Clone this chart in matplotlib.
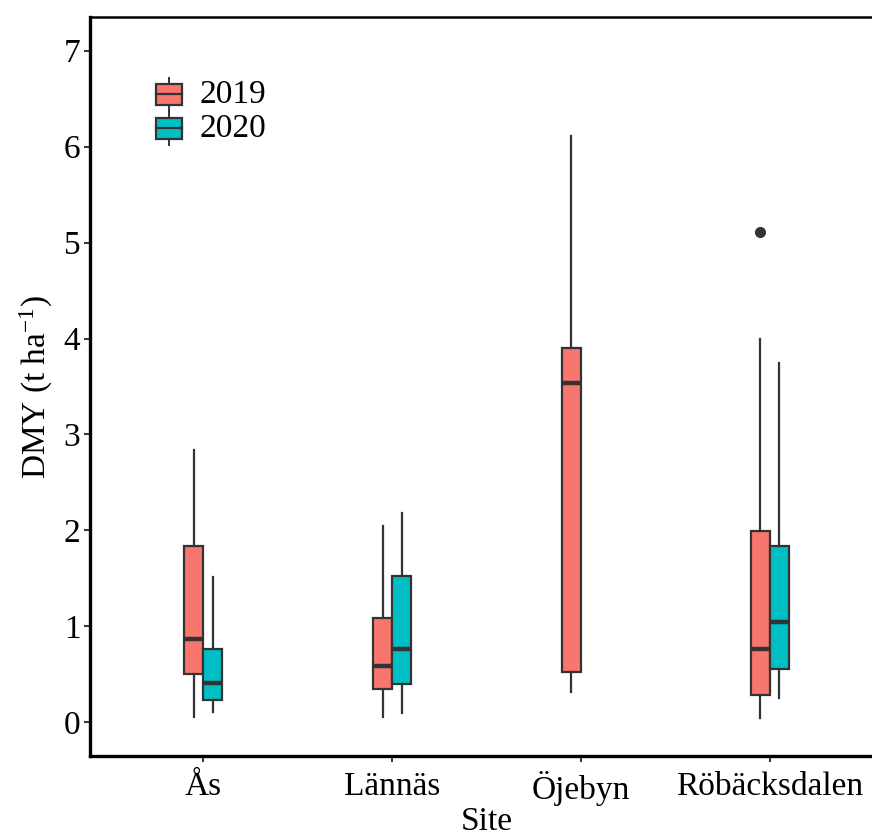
import matplotlib
matplotlib.use('Agg')
import matplotlib.pyplot as plt
from matplotlib.legend_handler import HandlerBase
from matplotlib.patches import Rectangle
from matplotlib.lines import Line2D

plt.rcParams['font.family'] = ['Liberation Serif', 'DejaVu Serif']
plt.rcParams['mathtext.fontset'] = 'custom'
plt.rcParams['mathtext.rm'] = 'Liberation Serif'
plt.rcParams['mathtext.it'] = 'Liberation Serif:italic'

# sites and years
sites = ['Ås', 'Lännäs', 'Öjebyn', 'Röbäcksdalen']
years = ['2019', '2020']
colors = ['#F8766D', '#00BFC4']

# box stats per year: whisker low, q1, median, q3, whisker high (t/ha)
lo_2019 = [0.06, 0.06, 0.32, 0.05]
q1_2019 = [0.50, 0.35, 0.53, 0.29]
med_2019 = [0.87, 0.59, 3.54, 0.77]
q3_2019 = [1.84, 1.09, 3.90, 1.99]
hi_2019 = [2.84, 2.05, 6.11, 4.00]
out_2019 = [[], [], [], [5.11]]

# no 2020 data at Öjebyn
lo_2020 = [0.11, 0.10, None, 0.25]
q1_2020 = [0.23, 0.40, None, 0.56]
med_2020 = [0.41, 0.76, None, 1.05]
q3_2020 = [0.76, 1.53, None, 1.84]
hi_2020 = [1.51, 2.18, None, 3.74]
out_2020 = [[], [], [], []]

stats_by_year = [
    (lo_2019, q1_2019, med_2019, q3_2019, hi_2019, out_2019),
    (lo_2020, q1_2020, med_2020, q3_2020, hi_2020, out_2020),
]

fig = plt.figure(figsize=(8.72, 8.36), dpi=100)
ax = fig.add_axes([90 / 872, 80 / 836, 793 / 872, 739 / 836])

dodge = 0.05
bw = 0.1
for k, (lo, q1, med, q3, hi, out) in enumerate(stats_by_year):
    stats, pos = [], []
    for i in range(len(sites)):
        if med[i] is None:
            continue
        stats.append(dict(whislo=lo[i], q1=q1[i], med=med[i], q3=q3[i],
                          whishi=hi[i], fliers=out[i]))
        pos.append(i + 1 + (k * 2 - 1) * dodge)
    ax.bxp(stats, positions=pos, widths=bw, patch_artist=True,
           showcaps=False, manage_ticks=False,
           boxprops=dict(facecolor=colors[k], edgecolor='#333333', linewidth=1.6),
           medianprops=dict(color='#333333', linewidth=3.2, solid_capstyle='butt'),
           whiskerprops=dict(color='#333333', linewidth=1.6),
           flierprops=dict(marker='o', markerfacecolor='#333333',
                           markeredgecolor='#333333', markersize=7))

ax.set_xlim(0.4, 4.6)
ax.set_ylim(-0.35, 7.35)
ax.set_xticks(range(1, len(sites) + 1))
ax.set_xticklabels(sites)
ax.set_yticks(range(0, 8))
ax.tick_params(axis='both', labelsize=24, length=4, width=1.4,
               color='#333333', labelcolor='black')
ax.tick_params(axis='x', pad=7)
ax.tick_params(axis='y', pad=3)
for side in ['left', 'bottom']:
    ax.spines[side].set_linewidth(2.4)
ax.spines['top'].set_linewidth(1.8)
ax.spines['right'].set_visible(False)

ax.set_xlabel('Site', fontsize=24, labelpad=0)
ax.set_ylabel('DMY (t ha$^{-1}$)', fontsize=24, labelpad=6)


# legend key drawn as a small box with median and whisker stubs
class BoxKey(HandlerBase):
    def create_artists(self, legend, orig, xd, yd, w, h, fontsize, trans):
        fc = orig.get_facecolor()
        box = Rectangle((xd, yd), w, h, facecolor=fc, edgecolor='#333333',
                        linewidth=1.6, transform=trans)
        mid = Line2D([xd, xd + w], [yd + h / 2, yd + h / 2], color='#333333',
                     linewidth=1.6, transform=trans)
        up = Line2D([xd + w / 2, xd + w / 2], [yd + h, yd + h * 1.3],
                    color='#333333', linewidth=1.4, transform=trans)
        dn = Line2D([xd + w / 2, xd + w / 2], [yd, yd - h * 0.3],
                    color='#333333', linewidth=1.4, transform=trans)
        return [up, dn, box, mid]


handles = [Rectangle((0, 0), 1, 1, facecolor=c) for c in colors]
ax.legend(handles, years, handler_map={Rectangle: BoxKey()},
          loc='upper left', bbox_to_anchor=(0.083, 0.915), frameon=False,
          fontsize=24, handlelength=0.8, handleheight=0.58,
          handletextpad=0.5, labelspacing=0.1, borderaxespad=0,
          borderpad=0)

fig.savefig('out.png', dpi=100)
